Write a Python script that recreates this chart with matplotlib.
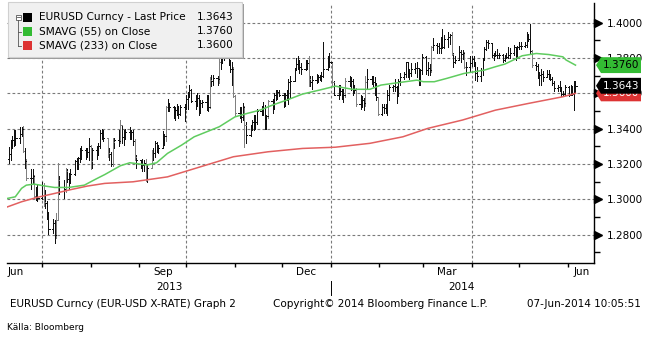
import numpy as np
import pandas as pd
import matplotlib
matplotlib.use('Agg')
import matplotlib.pyplot as plt
import matplotlib.dates as mdates
from matplotlib.patches import Polygon, Rectangle

# daily EURUSD bars (weekdays 10-Jun-2013 .. 06-Jun-2014)
days = pd.bdate_range('2013-06-10', '2014-06-06')
first_open = 1.3230
close = [
    1.3255, 1.3316, 1.3338, 1.3346, 1.3348, 1.3370, 1.3397, 1.3275, 1.3218, 1.3123,
    1.3122, 1.3130, 1.3018, 1.3003, 1.3010, 1.3083, 1.2986, 1.2980, 1.2910, 1.2833,
    1.2866, 1.2798, 1.2880, 1.3110, 1.3068, 1.3057, 1.3160, 1.3114, 1.3115, 1.3143,
    1.3216, 1.3216, 1.3236, 1.3276, 1.3278, 1.3259, 1.3267, 1.3302, 1.3218, 1.3280,
    1.3265, 1.3300, 1.3377, 1.3380, 1.3345, 1.3264, 1.3256, 1.3200, 1.3325, 1.3335,
    1.3330, 1.3420, 1.3355, 1.3365, 1.3380, 1.3390, 1.3380, 1.3330, 1.3240, 1.3220,
    1.3205, 1.3195, 1.3205, 1.3110, 1.3180, 1.3260, 1.3260, 1.3320, 1.3300, 1.3290,
    1.3335, 1.3360, 1.3520, 1.3540, 1.3525, 1.3485, 1.3505, 1.3500, 1.3485, 1.3525,
    1.3525, 1.3570, 1.3590, 1.3620, 1.3555, 1.3575, 1.3575, 1.3500, 1.3545, 1.3550,
    1.3560, 1.3520, 1.3675, 1.3670, 1.3685, 1.3680, 1.3780, 1.3780, 1.3800, 1.3805,
    1.3780, 1.3740, 1.3740, 1.3585, 1.3490, 1.3515, 1.3465, 1.3525, 1.3420, 1.3365,
    1.3400, 1.3435, 1.3460, 1.3435, 1.3500, 1.3505, 1.3515, 1.3440, 1.3470, 1.3555,
    1.3525, 1.3590, 1.3580, 1.3610, 1.3590, 1.3545, 1.3590, 1.3590, 1.3665, 1.3670,
    1.3740, 1.3765, 1.3785, 1.3750, 1.3740, 1.3765, 1.3770, 1.3680, 1.3665, 1.3675,
    1.3675, 1.3690, 1.3700, 1.3700, 1.3740, 1.3800, 1.3780, 1.3780, 1.3665, 1.3590,
    1.3630, 1.3615, 1.3575, 1.3590, 1.3670, 1.3675, 1.3670, 1.3605, 1.3620, 1.3540,
    1.3555, 1.3560, 1.3545, 1.3665, 1.3680, 1.3675, 1.3665, 1.3655, 1.3580, 1.3485,
    1.3520, 1.3515, 1.3530, 1.3590, 1.3635, 1.3640, 1.3635, 1.3595, 1.3670, 1.3690,
    1.3710, 1.3780, 1.3715, 1.3715, 1.3740, 1.3745, 1.3745, 1.3680, 1.3735, 1.3805,
    1.3735, 1.3745, 1.3735, 1.3860, 1.3875, 1.3870, 1.3855, 1.3905, 1.3860, 1.3910,
    1.3920, 1.3930, 1.3825, 1.3780, 1.3790, 1.3835, 1.3825, 1.3830, 1.3750, 1.3750,
    1.3770, 1.3795, 1.3765, 1.3715, 1.3700, 1.3730, 1.3795, 1.3850, 1.3890, 1.3885,
    1.3815, 1.3815, 1.3820, 1.3815, 1.3815, 1.3790, 1.3815, 1.3805, 1.3815, 1.3830,
    1.3860, 1.3810, 1.3865, 1.3870, 1.3870, 1.3875, 1.3930, 1.3910, 1.3840, 1.3760,
    1.3755, 1.3710, 1.3705, 1.3710, 1.3695, 1.3710, 1.3705, 1.3680, 1.3660, 1.3630,
    1.3635, 1.3630, 1.3595, 1.3595, 1.3635, 1.3590, 1.3630, 1.3595, 1.3660, 1.3643,
]
high = [
    1.3295, 1.3335, 1.3360, 1.3390, 1.3390, 1.3410, 1.3410, 1.3417, 1.3290, 1.3230,
    1.3170, 1.3170, 1.3140, 1.3070, 1.3080, 1.3100, 1.3090, 1.3050, 1.2990, 1.2930,
    1.2890, 1.2880, 1.2920, 1.3206, 1.3130, 1.3110, 1.3180, 1.3170, 1.3150, 1.3170,
    1.3220, 1.3235, 1.3240, 1.3290, 1.3300, 1.3290, 1.3290, 1.3345, 1.3305, 1.3290,
    1.3300, 1.3320, 1.3390, 1.3400, 1.3390, 1.3340, 1.3290, 1.3270, 1.3350, 1.3350,
    1.3390, 1.3450, 1.3420, 1.3390, 1.3400, 1.3410, 1.3395, 1.3395, 1.3340, 1.3250,
    1.3225, 1.3230, 1.3220, 1.3230, 1.3200, 1.3280, 1.3290, 1.3330, 1.3325, 1.3310,
    1.3385, 1.3370, 1.3530, 1.3570, 1.3545, 1.3530, 1.3520, 1.3540, 1.3530, 1.3535,
    1.3540, 1.3590, 1.3610, 1.3645, 1.3625, 1.3590, 1.3600, 1.3590, 1.3560, 1.3565,
    1.3590, 1.3590, 1.3690, 1.3705, 1.3705, 1.3700, 1.3795, 1.3800, 1.3820, 1.3832,
    1.3810, 1.3790, 1.3780, 1.3750, 1.3590, 1.3520, 1.3520, 1.3545, 1.3530, 1.3440,
    1.3420, 1.3450, 1.3480, 1.3480, 1.3510, 1.3530, 1.3550, 1.3535, 1.3480, 1.3560,
    1.3570, 1.3600, 1.3620, 1.3620, 1.3620, 1.3600, 1.3600, 1.3620, 1.3680, 1.3700,
    1.3745, 1.3800, 1.3810, 1.3790, 1.3770, 1.3790, 1.3790, 1.3810, 1.3700, 1.3700,
    1.3710, 1.3705, 1.3705, 1.3720, 1.3893, 1.3810, 1.3830, 1.3780, 1.3780, 1.3670,
    1.3650, 1.3645, 1.3625, 1.3625, 1.3685, 1.3700, 1.3690, 1.3680, 1.3650, 1.3630,
    1.3590, 1.3585, 1.3575, 1.3700, 1.3740, 1.3700, 1.3700, 1.3690, 1.3660, 1.3580,
    1.3540, 1.3540, 1.3540, 1.3620, 1.3645, 1.3650, 1.3680, 1.3640, 1.3680, 1.3715,
    1.3720, 1.3775, 1.3775, 1.3740, 1.3770, 1.3770, 1.3775, 1.3745, 1.3740, 1.3825,
    1.3810, 1.3775, 1.3765, 1.3870, 1.3915, 1.3885, 1.3885, 1.3920, 1.3967, 1.3930,
    1.3945, 1.3935, 1.3945, 1.3830, 1.3810, 1.3870, 1.3845, 1.3845, 1.3835, 1.3780,
    1.3810, 1.3810, 1.3810, 1.3775, 1.3750, 1.3745, 1.3800, 1.3860, 1.3905, 1.3905,
    1.3885, 1.3830, 1.3840, 1.3850, 1.3830, 1.3825, 1.3820, 1.3830, 1.3860, 1.3855,
    1.3875, 1.3865, 1.3870, 1.3890, 1.3890, 1.3890, 1.3945, 1.3935, 1.3993, 1.3845,
    1.3775, 1.3765, 1.3720, 1.3740, 1.3725, 1.3735, 1.3735, 1.3710, 1.3690, 1.3670,
    1.3650, 1.3670, 1.3635, 1.3615, 1.3645, 1.3640, 1.3650, 1.3640, 1.3670, 1.3672,
]
low = [
    1.3205, 1.3220, 1.3290, 1.3300, 1.3310, 1.3320, 1.3360, 1.3270, 1.3180, 1.3110,
    1.3060, 1.3090, 1.3010, 1.2995, 1.2990, 1.3000, 1.2960, 1.2950, 1.2890, 1.2805,
    1.2810, 1.2755, 1.2780, 1.2880, 1.3030, 1.3010, 1.3040, 1.3100, 1.3060, 1.3090,
    1.3140, 1.3170, 1.3170, 1.3210, 1.3230, 1.3230, 1.3240, 1.3220, 1.3170, 1.3180,
    1.3230, 1.3250, 1.3290, 1.3340, 1.3330, 1.3240, 1.3220, 1.3190, 1.3190, 1.3290,
    1.3300, 1.3320, 1.3320, 1.3310, 1.3340, 1.3340, 1.3340, 1.3310, 1.3220, 1.3180,
    1.3180, 1.3160, 1.3160, 1.3105, 1.3100, 1.3180, 1.3220, 1.3240, 1.3270, 1.3260,
    1.3290, 1.3310, 1.3330, 1.3500, 1.3500, 1.3460, 1.3450, 1.3480, 1.3460, 1.3480,
    1.3445, 1.3510, 1.3510, 1.3580, 1.3550, 1.3510, 1.3530, 1.3480, 1.3490, 1.3520,
    1.3505, 1.3500, 1.3515, 1.3640, 1.3650, 1.3650, 1.3660, 1.3740, 1.3770, 1.3790,
    1.3760, 1.3720, 1.3650, 1.3580, 1.3480, 1.3460, 1.3440, 1.3450, 1.3295, 1.3320,
    1.3360, 1.3390, 1.3390, 1.3400, 1.3425, 1.3475, 1.3480, 1.3400, 1.3400, 1.3460,
    1.3490, 1.3510, 1.3560, 1.3570, 1.3585, 1.3520, 1.3530, 1.3560, 1.3540, 1.3580,
    1.3670, 1.3730, 1.3740, 1.3715, 1.3710, 1.3735, 1.3740, 1.3640, 1.3640, 1.3625,
    1.3660, 1.3665, 1.3675, 1.3670, 1.3690, 1.3735, 1.3750, 1.3770, 1.3650, 1.3590,
    1.3570, 1.3590, 1.3570, 1.3550, 1.3580, 1.3640, 1.3620, 1.3590, 1.3600, 1.3530,
    1.3510, 1.3520, 1.3505, 1.3530, 1.3630, 1.3655, 1.3640, 1.3590, 1.3560, 1.3480,
    1.3478, 1.3490, 1.3490, 1.3480, 1.3560, 1.3615, 1.3615, 1.3545, 1.3585, 1.3650,
    1.3680, 1.3695, 1.3690, 1.3680, 1.3700, 1.3715, 1.3695, 1.3645, 1.3645, 1.3710,
    1.3710, 1.3705, 1.3705, 1.3720, 1.3845, 1.3830, 1.3830, 1.3830, 1.3855, 1.3855,
    1.3860, 1.3880, 1.3820, 1.3750, 1.3770, 1.3790, 1.3780, 1.3795, 1.3745, 1.3705,
    1.3720, 1.3755, 1.3755, 1.3675, 1.3670, 1.3670, 1.3705, 1.3790, 1.3845, 1.3855,
    1.3805, 1.3790, 1.3810, 1.3800, 1.3800, 1.3775, 1.3785, 1.3800, 1.3800, 1.3800,
    1.3820, 1.3790, 1.3800, 1.3850, 1.3850, 1.3860, 1.3865, 1.3895, 1.3830, 1.3750,
    1.3730, 1.3685, 1.3650, 1.3650, 1.3670, 1.3690, 1.3680, 1.3675, 1.3650, 1.3615,
    1.3615, 1.3615, 1.3585, 1.3585, 1.3590, 1.3585, 1.3590, 1.3590, 1.3503, 1.3610,
]

# moving averages
sma55_dates = ['2013-06-09', '2013-06-14', '2013-06-18', '2013-06-21', '2013-06-26',
               '2013-07-03', '2013-07-09', '2013-07-18', '2013-07-28', '2013-08-04',
               '2013-08-10', '2013-08-20', '2013-08-26', '2013-09-06', '2013-09-12',
               '2013-09-19', '2013-09-28', '2013-10-06', '2013-10-22', '2013-11-01',
               '2013-11-09', '2013-11-17', '2013-11-25', '2013-12-04', '2013-12-14',
               '2013-12-25', '2014-01-04', '2014-01-09', '2014-01-15', '2014-01-26',
               '2014-02-02', '2014-02-10', '2014-02-25', '2014-03-01', '2014-03-08',
               '2014-03-16', '2014-03-27', '2014-04-09', '2014-04-16', '2014-04-22',
               '2014-05-03', '2014-05-12', '2014-05-20', '2014-05-29', '2014-05-31',
               '2014-06-06']
sma55 = [1.3005, 1.3014, 1.3062, 1.3080, 1.3086, 1.3075, 1.3067, 1.3067, 1.3080, 1.3113,
         1.3140, 1.3190, 1.3207, 1.3194, 1.3207, 1.3260, 1.3307, 1.3354, 1.3411, 1.3467,
         1.3487, 1.3505, 1.3534, 1.3562, 1.3596, 1.3619, 1.3641, 1.3632, 1.3623, 1.3623,
         1.3647, 1.3657, 1.3675, 1.3666, 1.3666, 1.3685, 1.3713, 1.3732, 1.3751, 1.3766,
         1.3813, 1.3826, 1.3820, 1.3807, 1.3789, 1.3760]
sma233_dates = ['2013-06-09', '2013-06-18', '2013-06-28', '2013-07-09', '2013-07-20',
                '2013-07-30', '2013-08-10', '2013-08-28', '2013-09-19', '2013-10-10',
                '2013-10-31', '2013-11-22', '2013-12-14', '2014-01-04', '2014-01-26',
                '2014-02-16', '2014-03-04', '2014-03-26', '2014-04-16', '2014-05-07',
                '2014-05-29', '2014-06-06']
sma233 = [1.2957, 1.2986, 1.3011, 1.3033, 1.3056, 1.3075, 1.3090, 1.3099, 1.3127, 1.3184,
          1.3241, 1.3269, 1.3288, 1.3295, 1.3317, 1.3354, 1.3402, 1.3449, 1.3505, 1.3543,
          1.3581, 1.3600]

y_ticks = [1.28, 1.30, 1.32, 1.34, 1.36, 1.38, 1.40]
y_minor = [1.27, 1.29, 1.31, 1.33, 1.35, 1.37, 1.39]
month_ticks = pd.date_range('2013-07-01', '2014-06-01', freq='MS')
quarter_lines = ['2013-07-01', '2013-10-01', '2014-01-01', '2014-04-01']
month_labels = ['Jun', 'Sep', 'Dec', 'Mar', 'Jun']
month_label_dates = ['2013-06-14', '2013-09-16', '2013-12-16', '2014-03-16', '2014-06-10']
year_labels = ['2013', '2014']
year_label_dates = ['2013-09-20', '2014-03-25']

W, H = 651, 338
GREEN = '#33bb33'
RED = '#dd3333'
FONT = 'DejaVu Sans'


def px(x, y):
    return x / W, 1 - y / H


fig = plt.figure(figsize=(W / 100, H / 100), dpi=100)
fig.patch.set_facecolor('white')
ax = fig.add_axes([7 / W, 1 - 263 / H, 587 / W, 260 / H])

x = mdates.date2num(days)
c = np.array(close)
o = np.array([first_open] + close[:-1])
hi = np.maximum(np.array(high), np.maximum(o, c))
lo = np.minimum(np.array(low), np.minimum(o, c))
cols = ['#808080' if abs(cc - oo) >= 0.008 else '#111111' for cc, oo in zip(c, o)]
ax.vlines(x, lo, hi, colors=cols, lw=0.72, zorder=3, antialiased=False)
ax.hlines(o, x - 0.8, x, colors=cols, lw=0.72, zorder=3, antialiased=False)
ax.hlines(c, x, x + 0.8, colors=cols, lw=0.72, zorder=3, antialiased=False)

ax.plot(mdates.date2num(pd.to_datetime(sma55_dates)), sma55, color='#5fcc5f', lw=1.1, zorder=4)
ax.plot(mdates.date2num(pd.to_datetime(sma233_dates)), sma233, color='#e26060', lw=1.1, zorder=4)

ax.set_xlim(mdates.date2num(pd.Timestamp('2013-06-08 17:00')),
            mdates.date2num(pd.Timestamp('2014-06-17 19:00')))
ax.set_ylim(1.2639, 1.4112)

# grid
for yv in y_ticks:
    ax.axhline(yv, color='#7a7a7a', lw=0.8, ls=(0, (2.5, 2)), zorder=1)
for d in quarter_lines:
    ax.axvline(mdates.date2num(pd.Timestamp(d)), color='#7a7a7a', lw=0.8, ls=(0, (2.5, 2)), zorder=1)

for side in ['left', 'top']:
    ax.spines[side].set_visible(False)
for side in ['right', 'bottom']:
    ax.spines[side].set_color('black')
    ax.spines[side].set_linewidth(1.0)

# y axis on the right
ax.yaxis.tick_right()
ax.set_yticks(y_ticks)
ax.set_yticklabels([f'{v:.4f}' for v in y_ticks], fontsize=7.5, family=FONT)
ax.set_yticks(y_minor, minor=True)
ax.tick_params(axis='y', which='major', length=0, pad=9)
ax.tick_params(axis='y', which='minor', length=4, width=1, color='black')
ytr = ax.get_yaxis_transform()
ax.plot([1 + 3.5 / 587] * len(y_ticks), y_ticks, ls='none', marker='>', ms=5.5,
        color='black', transform=ytr, clip_on=False, zorder=5)

# x axis
ax.set_xticks(mdates.date2num(month_ticks))
ax.set_xticklabels([])
ax.tick_params(axis='x', length=3, width=1, color='black', direction='out')
xtr = ax.get_xaxis_transform()
for lab, d in zip(month_labels, month_label_dates):
    ax.text(mdates.date2num(pd.Timestamp(d)), -9 / 260, lab, transform=xtr, ha='center',
            va='center', fontsize=7.5, family=FONT)
for lab, d in zip(year_labels, year_label_dates):
    ax.text(mdates.date2num(pd.Timestamp(d)), -24 / 260, lab, transform=xtr, ha='center',
            va='center', fontsize=7.5, family=FONT)
jan1 = mdates.date2num(pd.Timestamp('2014-01-01'))
ax.plot([jan1, jan1], [-18 / 260, -32 / 260], color='black', lw=0.7, transform=xtr, clip_on=False)

# value tags on the right axis (later ones drawn on top)
tags = [(sma233[-1], RED, 'white'), (close[-1], 'black', 'white'), (sma55[-1], GREEN, 'black')]
hh = 0.0045
for i, (val, fc, tc) in enumerate(tags):
    verts = [(1 + 2 / 587, val), (1 + 7 / 587, val + hh), (1 + 47 / 587, val + hh),
             (1 + 47 / 587, val - hh), (1 + 7 / 587, val - hh)]
    ax.add_patch(Polygon(verts, closed=True, facecolor=fc, edgecolor='none',
                         transform=ytr, clip_on=False, zorder=10 + 2 * i))
    ax.text(1 + 27 / 587, val, f'{val:.4f}', transform=ytr, ha='center', va='center',
            color=tc, fontsize=7.5, family=FONT, zorder=11 + 2 * i, clip_on=False)

# legend panel
fig.add_artist(Rectangle(px(10, 59), 234 / W, 55 / H, transform=fig.transFigure,
                         facecolor='#9a9a9a', edgecolor='none', zorder=20))
fig.add_artist(Rectangle(px(8, 57), 234 / W, 55 / H, transform=fig.transFigure,
                         facecolor='#f0f0f0', edgecolor='#d0d0d0', lw=0.8, zorder=21))
rows = [('EURUSD Curncy - Last Price', close[-1], 'black', 17.5),
        ('SMAVG (55) on Close', sma55[-1], GREEN, 31.5),
        ('SMAVG (233) on Close', sma233[-1], RED, 45.5)]
for name, val, col, yy in rows:
    fig.add_artist(Rectangle(px(23, yy + 4.5), 9 / W, 9 / H, transform=fig.transFigure,
                             facecolor=col, edgecolor='none', zorder=22))
    fig.text(*px(39, yy), name, ha='left', va='center', fontsize=7.6, family=FONT, zorder=22)
    fig.text(*px(234, yy), f'{val:.4f}', ha='right', va='center', fontsize=7.6, family=FONT,
             zorder=22)
# tree widget
fig.add_artist(Rectangle(px(15.5, 19.5), 5 / W, 5 / H, transform=fig.transFigure,
                         facecolor='white', edgecolor='#555555', lw=0.6, zorder=22))
fig.add_artist(plt.Line2D([px(16.5, 0)[0], px(19.5, 0)[0]], [px(0, 17)[1]] * 2,
                          transform=fig.transFigure, color='#555555', lw=0.6, zorder=23))
fig.add_artist(plt.Line2D([px(18, 0)[0]] * 2, [px(0, 20)[1], px(0, 46)[1]],
                          transform=fig.transFigure, color='#555555', lw=0.6, zorder=22))
for yy in (31.5, 46):
    fig.add_artist(plt.Line2D([px(18, 0)[0], px(21, 0)[0]], [px(0, yy)[1]] * 2,
                              transform=fig.transFigure, color='#555555', lw=0.6, zorder=22))

# footer
fig.text(*px(10, 304), 'EURUSD Curncy (EUR-USD X-RATE) Graph 2', ha='left', va='center',
         fontsize=7.5, family=FONT)
fig.text(*px(273, 304), 'Copyright\u00a9 2014 Bloomberg Finance L.P.', ha='left', va='center',
         fontsize=7.5, family=FONT)
fig.text(*px(641, 304), '07-Jun-2014 10:05:51', ha='right', va='center', fontsize=7.5, family=FONT)
fig.text(*px(7, 327), 'Källa: Bloomberg', ha='left', va='center', fontsize=6.5,
         family=['Liberation Sans Narrow', 'DejaVu Sans'])

fig.savefig('out.png', dpi=100)
